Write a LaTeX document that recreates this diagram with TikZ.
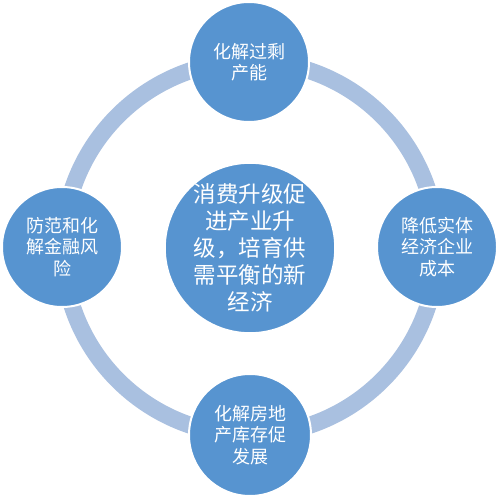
\documentclass[tikz,border=0pt]{standalone}
\usepackage{fontspec}
\newfontfamily\cjk{Noto Sans CJK SC}
\definecolor{ringblue}{HTML}{A9C0E0}
\definecolor{ballblue}{HTML}{5794D0}
\begin{document}
\begin{tikzpicture}[x=1pt,y=-1pt,
  ball/.style={circle, fill=ballblue, draw=white, line width=2pt, inner sep=0pt,
    minimum size=#1, text=white, align=center},
  small/.style={font=\cjk\fontsize{18}{21.5}\selectfont},
  big/.style={font=\cjk\fontsize{22.5}{27}\selectfont}]
\path[use as bounding box, fill=white] (0,0) rectangle (500,497);
\coordinate (o) at (250,248);
\draw[ringblue, line width=17pt] (o) circle[radius=187];
\node[ball=120pt, small] (top) at (249,62) {化解过剩\\产能};
\node[ball=120pt, small] (left) at (62,247) {防范和化\\解金融风\\险};
\node[ball=120pt, small] (right) at (437,247) {降低实体\\经济企业\\成本};
\node[ball=122pt, small] (bottom) at (250,435) {化解房地\\产库存促\\发展};
\node[ball=170pt, big] (center) at (250,248) {消费升级促\\进产业升\\级，培育供\\需平衡的新\\经济};
\end{tikzpicture}
\end{document}
